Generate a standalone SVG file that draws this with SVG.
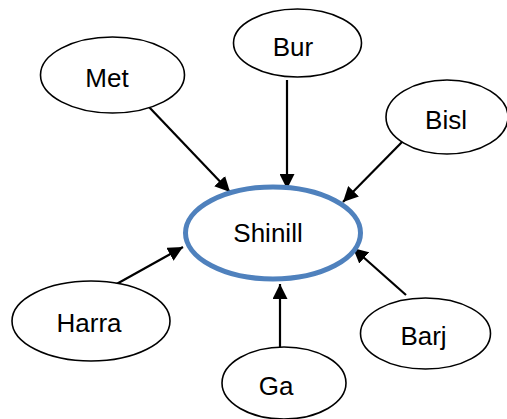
<svg xmlns="http://www.w3.org/2000/svg" width="507" height="419" viewBox="0 0 507 419">
  <style>
    .node { fill: #ffffff; stroke: #000000; stroke-width: 1.6; }
    .hub { fill: #ffffff; stroke: #4F81BD; stroke-width: 5; }
    .label { font-family: "Liberation Sans", Arial, sans-serif; font-size: 26px; fill: #000000; text-anchor: middle; }
    .edge { stroke: #000000; stroke-width: 2.2; fill: none; marker-end: url(#arrow); }
  </style>
  <defs>
    <marker id="arrow" markerUnits="userSpaceOnUse" markerWidth="16" markerHeight="15" refX="15" refY="7.5" orient="auto">
      <path d="M0,0 L15,7.5 L0,15 z" fill="#000000"/>
    </marker>
  </defs>
  <rect width="507" height="419" fill="#ffffff"/>

  <g id="connectors">
    <line class="edge" x1="149" y1="107" x2="230" y2="192"/>
    <line class="edge" x1="287" y1="80" x2="287" y2="189"/>
    <line class="edge" x1="404" y1="140" x2="343" y2="202"/>
    <line class="edge" x1="113" y1="286" x2="183" y2="247"/>
    <line class="edge" x1="406" y1="295" x2="353" y2="248"/>
    <line class="edge" x1="280" y1="347" x2="280" y2="284"/>
  </g>

  <g id="node-met">
    <ellipse class="node" cx="112.5" cy="75" rx="72" ry="38"/>
    <text class="label" x="107" y="87">Met</text>
  </g>
  <g id="node-bur">
    <ellipse class="node" cx="297.5" cy="43" rx="64" ry="34"/>
    <text class="label" x="293" y="56">Bur</text>
  </g>
  <g id="node-bisl">
    <ellipse class="node" cx="447" cy="117" rx="61" ry="37"/>
    <text class="label" x="446" y="129">Bisl</text>
  </g>
  <g id="node-shinill">
    <ellipse class="hub" cx="273" cy="233" rx="87.5" ry="46"/>
    <text class="label" x="268" y="242">Shinill</text>
  </g>
  <g id="node-harra">
    <ellipse class="node" cx="91" cy="321" rx="79" ry="40"/>
    <text class="label" x="89" y="332">Harra</text>
  </g>
  <g id="node-bari">
    <ellipse class="node" cx="425.5" cy="333.5" rx="65" ry="35.5"/>
    <text class="label" x="423.5" y="345">Barj</text>
  </g>
  <g id="node-ga">
    <ellipse class="node" cx="284" cy="383" rx="62" ry="36"/>
    <text class="label" x="276" y="395">Ga</text>
  </g>
</svg>
